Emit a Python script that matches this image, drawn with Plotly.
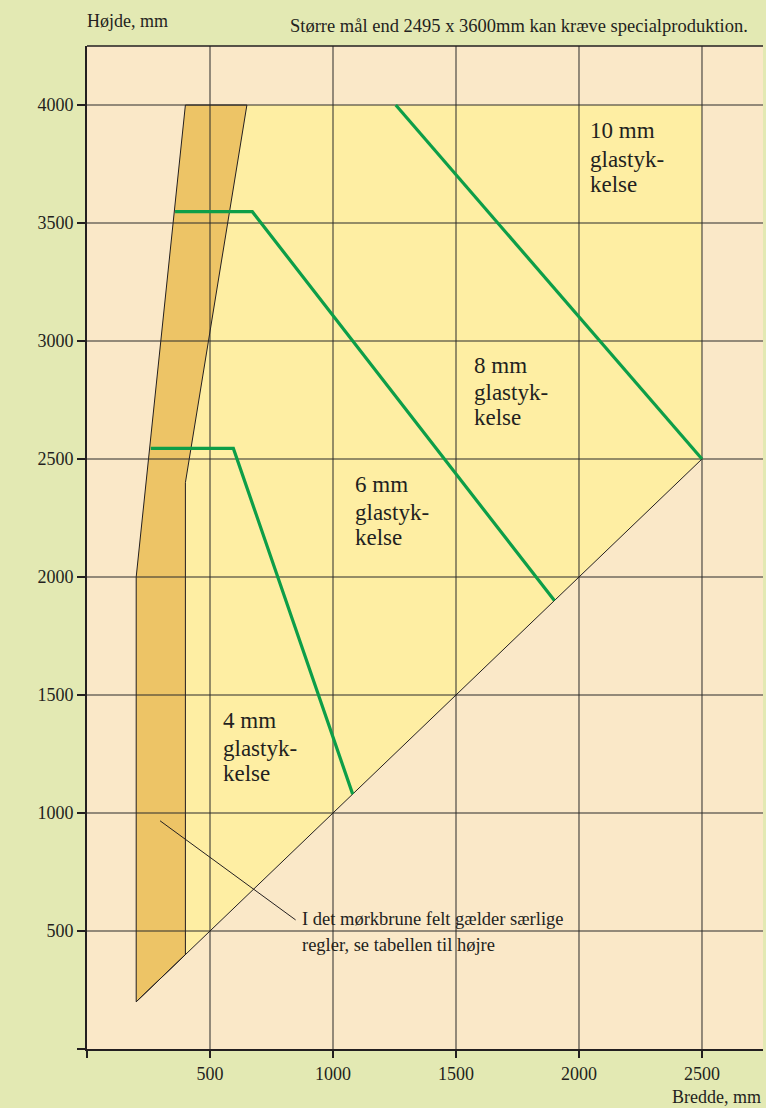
import plotly.graph_objects as go

# ---------------- data ----------------
x_ticks = [0, 500, 1000, 1500, 2000, 2500]
x_tick_labels = ["", "500", "1000", "1500", "2000", "2500"]
y_ticks = [0, 500, 1000, 1500, 2000, 2500, 3000, 3500, 4000]
y_tick_labels = ["", "500", "1000", "1500", "2000", "2500", "3000", "3500", "4000"]

# dark brown zone (special rules)
dark_x = [200, 200, 400, 650, 400, 400, 200]
dark_y = [200, 2000, 4000, 4000, 2400, 400, 200]
# yellow zone (allowed sizes)
yellow_x = [400, 400, 650, 2500, 2500, 400]
yellow_y = [400, 2400, 4000, 4000, 2500, 400]
# diagonal lower boundary
diag_x = [200, 2500]
diag_y = [200, 2500]

# glass thickness limit lines
g4_x = [259, 595, 1080]
g4_y = [2545, 2545, 1080]
g6_x = [358, 672, 1900]
g6_y = [3548, 3548, 1900]
g8_x = [1255, 2500]
g8_y = [4000, 2500]

zone_labels = [
    ["10 mm", "glastyk-", "kelse"],
    ["8 mm", "glastyk-", "kelse"],
    ["6 mm", "glastyk-", "kelse"],
    ["4 mm", "glastyk-", "kelse"],
]
note_lines = ["I det mørkbrune felt gælder særlige", "regler, se tabellen til højre"]
y_title = "Højde, mm"
x_title = "Bredde, mm"
top_note = "Større mål end 2495 x 3600mm kan kræve specialproduktion."

# ---------------- layout helpers ----------------
X_MAX = 2748
Y_MAX = 4250
FONT = "Liberation Serif, Times New Roman, serif"
TXT = "#231f20"

BG = "#e3e9b3"
PEACH = "#fae8c8"
YELLOW = "#feeea3"
DARK = "#edc466"
GREEN = "#0d9e48"

fig = go.Figure()

fig.add_trace(go.Scatter(x=yellow_x, y=yellow_y, mode="lines", fill="toself",
                         fillcolor=YELLOW, line=dict(width=0), hoverinfo="skip"))
fig.add_trace(go.Scatter(x=dark_x, y=dark_y, mode="lines", fill="toself",
                         fillcolor=DARK, line=dict(color="#231f20", width=1), hoverinfo="skip"))

# grid lines drawn above fills
gx, gy = [], []
for t in x_ticks[1:]:
    gx += [t, t, None]
    gy += [0, Y_MAX, None]
for t in y_ticks[1:]:
    gx += [0, X_MAX, None]
    gy += [t, t, None]
fig.add_trace(go.Scatter(x=gx, y=gy, mode="lines", line=dict(color="#2b2b2b", width=1),
                         hoverinfo="skip"))

fig.add_trace(go.Scatter(x=diag_x, y=diag_y, mode="lines",
                         line=dict(color="#231f20", width=1), hoverinfo="skip"))

for gxs, gys in [(g4_x, g4_y), (g6_x, g6_y), (g8_x, g8_y)]:
    fig.add_trace(go.Scatter(x=gxs, y=gys, mode="lines",
                             line=dict(color=GREEN, width=3.2), hoverinfo="skip"))

annotations = []
# zone labels (one line per annotation for tight leading)
label_pos = [(2037, [3890, 3771, 3665]),
             (1564, [2898, 2780, 2674]),
             (1083, [2390, 2275, 2169]),
             (543, [1394, 1275, 1169])]
for lines, (lx, lys) in zip(zone_labels, label_pos):
    for line, ly in zip(lines, lys):
        annotations.append(dict(x=lx, y=ly, xref="x", yref="y", text=line, showarrow=False,
                                xanchor="left", yanchor="middle",
                                font=dict(family=FONT, size=23, color=TXT)))
for line, ly in zip(note_lines, [549, 439]):
    annotations.append(dict(x=866, y=ly, xref="x", yref="y", text=line, showarrow=False,
                            xanchor="left", yanchor="middle",
                            font=dict(family=FONT, size=18.5, color=TXT)))
annotations.append(dict(x=-0.003, y=1.0253, xref="paper", yref="paper", text=y_title,
                        showarrow=False, xanchor="left", yanchor="middle",
                        font=dict(family=FONT, size=18, color=TXT)))
annotations.append(dict(x=0.9808, y=1.0204, xref="paper", yref="paper", text=top_note,
                        showarrow=False, xanchor="right", yanchor="middle",
                        font=dict(family=FONT, size=18.5, color=TXT)))
annotations.append(dict(x=1.0, y=-0.0479, xref="paper", yref="paper", text=x_title,
                        showarrow=False, xanchor="right", yanchor="middle",
                        font=dict(family=FONT, size=18, color=TXT)))

shapes = [
    dict(type="line", xref="x", yref="y", x0=297, y0=967, x1=848, y1=547,
         line=dict(color="#231f20", width=1)),
    dict(type="line", xref="paper", yref="paper", x0=0, y0=1, x1=1, y1=1,
         line=dict(color="#231f20", width=1.5)),
]

fig.update_layout(
    width=766, height=1108,
    margin=dict(l=87, r=3, t=46, b=59),
    paper_bgcolor=BG, plot_bgcolor=PEACH,
    showlegend=False,
    annotations=annotations, shapes=shapes,
    font=dict(family=FONT, size=18, color=TXT),
)
fig.update_xaxes(range=[0, X_MAX], tickvals=x_ticks, ticktext=x_tick_labels,
                 showgrid=False, zeroline=False, showline=True, linecolor="#231f20",
                 linewidth=2, ticks="outside", ticklen=7, tickwidth=2, tickcolor="#231f20",
                 tickfont=dict(family=FONT, size=18, color=TXT), layer="above traces")
fig.update_yaxes(range=[0, Y_MAX], tickvals=y_ticks, ticktext=y_tick_labels,
                 showgrid=False, zeroline=False, showline=True, linecolor="#231f20",
                 linewidth=2, ticks="outside", ticklen=8, tickwidth=2, tickcolor="#231f20",
                 tickfont=dict(family=FONT, size=18, color=TXT), layer="above traces")

fig.write_html("out.html", config={"displayModeBar": False},
               post_script="document.body.style.margin='0';")
